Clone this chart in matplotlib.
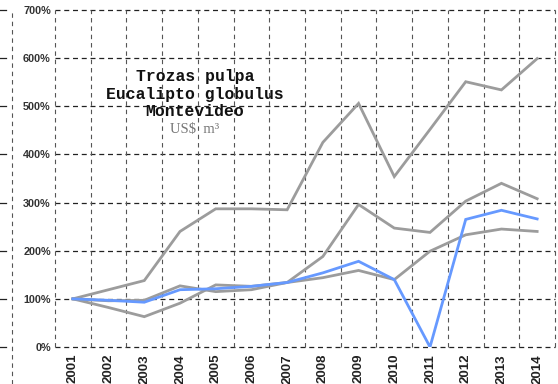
import numpy as np
import matplotlib.pyplot as plt
from matplotlib.lines import Line2D

anios = list(range(2001, 2015))
serie_alta = [100, 119, 138, 240, 287, 287, 285, 425, 506, 354, 452, 551, 534, 599]
serie_media = [100, 96, 97, 127, 115, 119, 134, 188, 296, 247, 238, 303, 340, 308]
serie_baja = [100, 82, 63, 91, 129, 126, 134, 144, 159, 140, 199, 233, 245, 240]
serie_azul = [100, 97, 93, 119, 121, 126, 134, 154, 178, 140, 0, 265, 284, 266]
ticks_y = [0, 100, 200, 300, 400, 500, 600, 700]

gris = '#9c9c9c'
azul = '#6699ff'

fig = plt.figure(figsize=(5.58, 3.84), dpi=100)
ax = fig.add_axes([55 / 558, 37 / 384, 500 / 558, 337 / 384])

x = np.arange(len(anios))
ax.plot(x, serie_alta, color=gris, lw=2.0, solid_joinstyle='miter')
ax.plot(x, serie_media, color=gris, lw=2.0, solid_joinstyle='miter')
ax.plot(x, serie_baja, color=gris, lw=2.0, solid_joinstyle='miter')
ax.plot(x, serie_azul, color=azul, lw=2.0, solid_joinstyle='miter')

ax.set_xlim(-0.5, len(anios) - 0.5)
ax.set_ylim(0, 700)

# grilla punteada: horizontales en cada 100%, verticales entre años
for v in ticks_y:
    ax.axhline(v, color='#222222', lw=0.9, ls=(0, (4, 3)), zorder=0, clip_on=False)
for xv in np.arange(-0.5, len(anios), 1.0):
    ax.axvline(xv, color='#555555', lw=0.8, ls=(0, (4, 3.5)), zorder=0, clip_on=False)

for s in ax.spines.values():
    s.set_visible(False)

ax.set_yticks(ticks_y)
ax.set_yticklabels([f'{v}%' for v in ticks_y], fontsize=7.8, fontweight='bold',
                   color='#333333', family='Liberation Sans')
ax.set_xticks(x)
ax.set_xticklabels([str(a) for a in anios], rotation=90, fontsize=9.5, fontweight='bold',
                   color='#222222', family='Liberation Sans', va='top')
ax.tick_params(axis='both', length=0)
ax.tick_params(axis='y', pad=3)
ax.tick_params(axis='x', pad=5)

# trazos sueltos a la izquierda de las etiquetas
fig.add_artist(Line2D([12 / 558, 12 / 558], [0, 374 / 384], color='#555555', lw=0.8,
                      ls=(0, (4, 3.5))))
for v in ticks_y:
    yf = (37 + v / 700 * 337) / 384
    fig.add_artist(Line2D([0, 6 / 558], [yf, yf], color='#222222', lw=0.9))

titulo = ['Trozas pulpa', 'Eucalipto globulus', 'Montevideo']
for i, t in enumerate(titulo):
    fig.text(195 / 558, 1 - (76 + 18 * i) / 384, t, ha='center', va='center',
             fontsize=11.8, fontweight='bold', family='Liberation Mono', color='#111111')
fig.text(195 / 558, 1 - 129 / 384, 'US$  m³', ha='center', va='center',
         fontsize=10.5, family='Liberation Serif', color='#777777')

fig.savefig('out.png', dpi=100)
